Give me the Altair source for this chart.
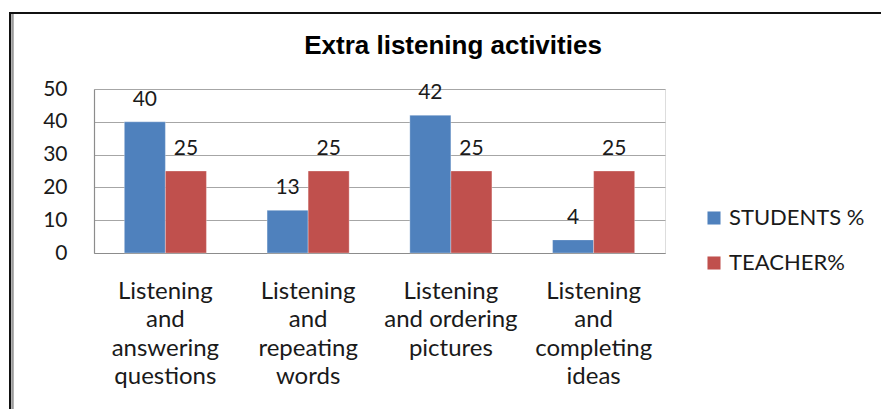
import altair as alt
import pandas as pd

# Activity categories (line breaks follow the axis label wrapping)
categories = [
    "Listening\nand\nanswering\nquestions",
    "Listening\nand\nrepeating\nwords",
    "Listening\nand ordering\npictures",
    "Listening\nand\ncompleting\nideas",
]
series_names = ["STUDENTS %", "TEACHER%"]
students_pct = [40, 13, 42, 4]
teacher_pct = [25, 25, 25, 25]
series_colors = ["#4F81BD", "#C0504D"]
y_ticks = [0, 10, 20, 30, 40, 50]
chart_title = "Extra listening activities"

rows = []
for cat, s, t in zip(categories, students_pct, teacher_pct):
    rows.append({"activity": cat, "group": series_names[0], "pct": s})
    rows.append({"activity": cat, "group": series_names[1], "pct": t})
df = pd.DataFrame(rows)

FONT = "Lato"

x_enc = alt.X(
    "activity:N",
    sort=categories,
    scale=alt.Scale(paddingInner=0.425, paddingOuter=0.2125),
    axis=alt.Axis(
        title=None,
        labelAngle=0,
        labelExpr="split(datum.value, '\\n')",
        labelFont=FONT,
        labelFontSize=24,
        labelLineHeight=28.5,
        labelColor="#1a1a1a",
        labelPadding=26,
        ticks=False,
        domainColor="#8c8c8c",
        domainWidth=1.2,
        labelBaseline="top",
    ),
)
y_enc = alt.Y(
    "pct:Q",
    scale=alt.Scale(domain=[0, 50], nice=False),
    axis=alt.Axis(
        title=None,
        values=y_ticks,
        labelFont=FONT,
        labelFontSize=21,
        labelColor="#1a1a1a",
        labelPadding=27,
        labelOverlap=False,
        labelFlush=False,
        ticks=False,
        grid=True,
        gridColor="#a6a6a6",
        gridWidth=1.2,
        domainColor="#8c8c8c",
        domainWidth=1.2,
    ),
)
color_enc = alt.Color(
    "group:N",
    sort=series_names,
    scale=alt.Scale(domain=series_names, range=series_colors),
    legend=alt.Legend(
        title=None,
        orient="none",
        legendX=609,
        legendY=118,
        symbolType="square",
        symbolSize=170,
        symbolStrokeWidth=0,
        labelFont=FONT,
        labelFontSize=22,
        labelColor="#1a1a1a",
        rowPadding=23,
        labelOffset=4,
    ),
)

base = alt.Chart(df).encode(
    x=x_enc,
    y=y_enc,
    xOffset=alt.XOffset("group:N", sort=series_names),
)

bars = base.mark_bar(stroke="white", strokeWidth=0.5, strokeOpacity=0.6).encode(
    color=color_enc
)

labels = base.mark_text(
    font=FONT, fontSize=21, color="#1a1a1a", baseline="alphabetic", dy=-16
).encode(text="pct:Q")

# Chart title and outer frame
single = alt.Data(values=[{"title": chart_title}])
title = alt.Chart(single).mark_text(
    font="Liberation Sans",
    fontSize=26,
    fontWeight="bold",
    color="#000000",
    align="center",
    baseline="alphabetic",
).encode(text="title:N", x=alt.value(359), y=alt.value(-35))

frame = alt.Chart(single).mark_rect(
    fill=None, stroke="#111111", strokeWidth=2
).encode(
    x=alt.value(-84), x2=alt.value(900), y=alt.value(-76), y2=alt.value(500)
)
frame_inner = alt.Chart(single).mark_rule(
    stroke="#9a9a9a", strokeWidth=2.5
).encode(x=alt.value(-81.5), y=alt.value(-75), y2=alt.value(500))

chart = (
    alt.layer(frame, frame_inner, title, bars, labels)
    .properties(
        width=571,
        height=164,
        autosize=alt.AutoSizeParams(type="none"),
        padding={"left": 94, "top": 89, "right": 216, "bottom": 156},
    )
    .configure_view(stroke=None)
    .configure(background="white")
)

chart.save("out.html", embed_options={"renderer": "svg", "actions": False})
